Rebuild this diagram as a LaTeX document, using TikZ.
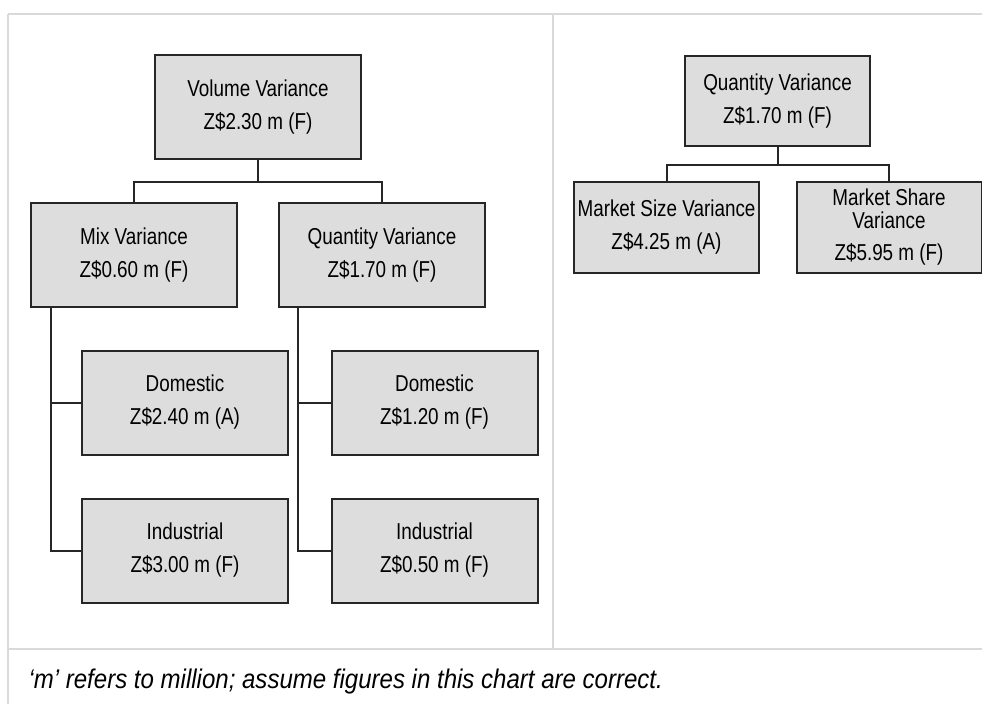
\documentclass[tikz,border=0pt]{standalone}
\usepackage{fontspec}
\newfontfamily\narrowfont[FakeStretch=0.82]{Liberation Sans}
\newfontfamily\notefont[FakeStretch=0.89]{Liberation Sans}
\usetikzlibrary{positioning}
\definecolor{boxgray}{HTML}{DDDDDD}
\definecolor{edgegray}{HTML}{262626}
\definecolor{rulegray}{HTML}{D9D9D9}

\begin{document}
\begin{tikzpicture}[
				x=1pt,y=-1pt,
				every node/.style={on grid},
				varbox/.style={draw=edgegray,fill=boxgray,line width=2pt,rectangle,align=center,
					font=\narrowfont\fontsize{23}{33}\selectfont,inner sep=0pt},
				bigbox/.style={varbox,minimum width=206pt,minimum height=104pt},
				smallbox/.style={varbox,minimum width=185pt,minimum height=91pt},
				link/.style={draw=edgegray,line width=2pt},
				rule/.style={draw=rulegray,line width=2pt}
				]
				\useasboundingbox (0,0) rectangle (982,704);
				
				% the table lines
				\draw[rule] (8,14) -- (982,14);
				\draw[rule] (8,14) -- (8,704);
				\draw[rule] (553,14) -- (553,649);
				\draw[rule] (8,649) -- (982,649);
				
				% left tree
				\node[bigbox] (vol) at (258,107) {Volume Variance\\Z\$2.30 m (F)};
				\node[bigbox,below left=148pt and 124pt of vol] (mix) {Mix Variance\\Z\$0.60 m (F)};
				\node[bigbox,below right=148pt and 124pt of vol] (qty) {Quantity Variance\\Z\$1.70 m (F)};
				\node[bigbox,below right=147.5pt and 51pt of mix] (mixdom) {Domestic\\Z\$2.40 m (A)};
				\node[bigbox,below=148pt of mixdom] (mixind) {Industrial\\Z\$3.00 m (F)};
				\node[bigbox,below right=147.5pt and 52.5pt of qty] (qtydom) {Domestic\\Z\$1.20 m (F)};
				\node[bigbox,below=148pt of qtydom] (qtyind) {Industrial\\Z\$0.50 m (F)};
				
				% right tree
				\node[smallbox,minimum height=90pt] (qtyb) at (777.5,101) {Quantity Variance\\Z\$1.70 m (F)};
				\node[smallbox,below left=126.5pt and 111pt of qtyb] (size) {Market Size Variance\\Z\$4.25 m (A)};
				\node[smallbox,below right=126.5pt and 111.5pt of qtyb,
					font=\narrowfont\fontsize{23}{23}\selectfont] (share)
					{Market Share\\Variance\\[9pt]Z\$5.95 m (F)};
				
				% the connectors
				\draw[link] (vol.south) -- ++(0,22) -| (mix.north);
				\draw[link] (vol.south) ++(0,22) -| (qty.north);
				\draw[link] ([xshift=21pt]mix.south west) |- (mixdom.west);
				\draw[link] ([xshift=21pt]mix.south west) |- (mixind.west);
				\draw[link] ([xshift=20pt]qty.south west) |- (qtydom.west);
				\draw[link] ([xshift=20pt]qty.south west) |- (qtyind.west);
				\draw[link] (qtyb.south) -- ++(0,18) -| (size.north);
				\draw[link] (qtyb.south) ++(0,18) -| (share.north);
				
				% footnote
				\node[anchor=west,font=\notefont\itshape\fontsize{27}{32}\selectfont] (note) at (25,682)
					{‘m’ refers to million; assume figures in this chart are correct.};
			\end{tikzpicture}
\end{document}
